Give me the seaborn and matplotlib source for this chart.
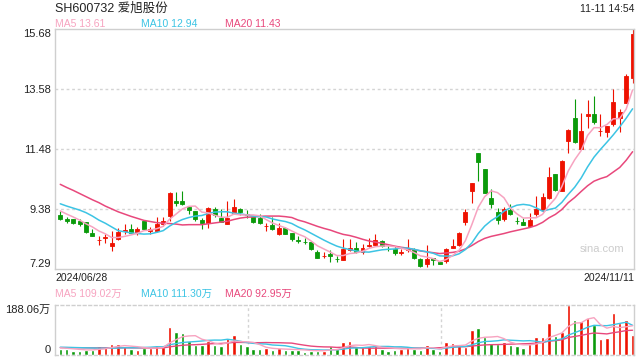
import matplotlib
matplotlib.use("Agg")
import matplotlib.pyplot as plt
import numpy as np
import seaborn as sns

RED = "#ee1100"
GREEN = "#0a9a0a"
MA5_COLOR = "#f7a3c0"
MA10_COLOR = "#3cc4e4"
MA20_COLOR = "#e8487c"
BORDER = "#cfcfcf"
GRID_COLOR = "#d4d4d4"
TEXT_COLOR = "#222222"

# daily OHLC, 2024/06/28 .. 2024/11/11 (yuan)
opens = [9.18, 9.03, 9.04, 8.97, 8.93, 8.56, 8.30, 8.38, 8.10, 8.33,
         8.61, 8.68, 8.56, 8.96, 8.62, 8.62, 8.85, 9.14, 9.65, 9.65,
         9.44, 9.33, 9.00, 8.91, 9.38, 9.08, 8.86, 9.26, 9.38, 9.22,
         9.11, 9.06, 8.79, 8.84, 8.53, 8.74, 8.54, 8.30, 8.25, 8.22,
         7.89, 7.74, 7.80, 7.64, 7.61, 7.96, 8.04, 7.87, 8.10, 8.13,
         8.28, 7.99, 7.98, 7.86, 7.94, 7.94, 7.63, 7.46, 7.69, 7.55,
         7.57, 8.03, 8.12, 8.93, 10.01, 11.33, 10.80, 9.78, 9.30, 9.03,
         9.34, 8.98, 8.95, 8.79, 9.20, 9.37, 9.77, 10.60, 10.00, 11.76,
         12.58, 11.48, 12.63, 12.72, 12.10, 12.09, 12.35, 12.56, 13.11, 13.97]
highs = [9.32, 9.12, 9.05, 9.05, 8.95, 8.68, 8.45, 8.53, 8.62, 8.74,
         8.85, 8.85, 8.77, 8.97, 8.76, 9.12, 9.12, 9.98, 9.98, 10.00,
         9.44, 9.33, 9.08, 9.45, 9.45, 9.38, 9.67, 9.72, 9.43, 9.35,
         9.12, 9.20, 8.91, 9.12, 8.91, 8.76, 8.56, 8.45, 8.37, 8.27,
         7.95, 7.87, 7.96, 7.75, 8.35, 8.35, 8.24, 8.16, 8.39, 8.50,
         8.30, 8.10, 8.08, 8.00, 8.33, 8.04, 7.66, 8.13, 7.69, 7.55,
         8.02, 8.33, 8.59, 9.38, 10.30, 11.33, 10.80, 10.07, 9.43, 9.47,
         9.57, 9.11, 9.08, 9.26, 9.85, 9.93, 10.84, 10.60, 11.09, 12.20,
         13.24, 12.74, 13.21, 13.35, 12.72, 12.29, 13.57, 12.89, 14.09, 15.68]
lows = [9.02, 8.89, 8.88, 8.79, 8.54, 8.45, 8.14, 8.19, 7.92, 8.29,
        8.53, 8.54, 8.49, 8.66, 8.50, 8.59, 8.79, 8.97, 9.49, 9.51,
        9.22, 8.97, 8.70, 8.74, 9.12, 8.95, 8.86, 9.22, 9.17, 9.08,
        8.91, 8.88, 8.61, 8.64, 8.47, 8.50, 8.28, 8.21, 8.18, 7.96,
        7.68, 7.66, 7.52, 7.52, 7.61, 7.92, 7.84, 7.81, 8.05, 8.10,
        8.07, 7.92, 7.77, 7.77, 7.89, 7.63, 7.37, 7.37, 7.44, 7.45,
        7.50, 8.03, 8.10, 8.83, 9.61, 10.36, 9.96, 9.43, 8.88, 8.97,
        9.17, 8.85, 8.82, 8.79, 9.14, 9.30, 9.74, 10.03, 10.00, 11.33,
        11.71, 11.48, 12.23, 12.35, 11.94, 11.92, 12.29, 12.08, 13.11, 13.80]
closes = [9.04, 8.98, 8.90, 8.86, 8.59, 8.45, 8.32, 8.40, 8.21, 8.59,
          8.64, 8.56, 8.70, 8.68, 8.68, 8.88, 8.98, 9.94, 9.58, 9.55,
          9.34, 9.03, 8.91, 9.41, 9.18, 8.95, 9.06, 9.44, 9.28, 9.18,
          8.93, 8.90, 8.81, 8.69, 8.71, 8.53, 8.34, 8.28, 8.23, 7.98,
          7.69, 7.76, 7.73, 7.63, 7.98, 8.04, 7.89, 8.01, 8.13, 8.30,
          8.10, 7.98, 7.84, 7.88, 7.98, 7.66, 7.40, 7.63, 7.60, 7.47,
          7.98, 8.10, 8.54, 9.30, 10.28, 11.02, 9.96, 9.55, 9.00, 9.38,
          9.20, 8.96, 8.83, 9.02, 9.40, 9.80, 10.52, 10.06, 11.05, 12.16,
          11.74, 12.13, 12.72, 12.42, 12.13, 12.29, 13.14, 12.78, 14.04, 15.50]

# moving averages as drawn on the chart
ma5 = [9.32, 9.21, 9.11, 9.00, 8.87, 8.76, 8.62, 8.52, 8.39, 8.39,
       8.43, 8.48, 8.54, 8.63, 8.65, 8.70, 8.78, 9.03, 9.21, 9.39,
       9.48, 9.49, 9.28, 9.25, 9.17, 9.10, 9.10, 9.21, 9.18, 9.18,
       9.18, 9.15, 9.02, 8.90, 8.81, 8.73, 8.62, 8.51, 8.42, 8.27,
       8.10, 7.99, 7.88, 7.76, 7.76, 7.83, 7.85, 7.91, 8.01, 8.07,
       8.09, 8.10, 8.07, 8.02, 7.96, 7.87, 7.75, 7.71, 7.65, 7.55,
       7.62, 7.76, 7.94, 8.28, 8.84, 9.45, 9.82, 10.02, 9.96, 9.78,
       9.42, 9.22, 9.07, 9.08, 9.08, 9.20, 9.51, 9.76, 10.17, 10.72,
       11.11, 11.43, 11.96, 12.23, 12.23, 12.34, 12.54, 12.55, 12.88, 13.55]
ma10 = [9.57, 9.49, 9.42, 9.35, 9.26, 9.14, 9.00, 8.89, 8.76, 8.63,
        8.59, 8.55, 8.53, 8.51, 8.52, 8.57, 8.63, 8.79, 8.92, 9.02,
        9.09, 9.14, 9.16, 9.23, 9.28, 9.29, 9.29, 9.24, 9.22, 9.18,
        9.14, 9.12, 9.11, 9.04, 8.99, 8.95, 8.88, 8.76, 8.66, 8.54,
        8.42, 8.30, 8.19, 8.09, 8.02, 7.97, 7.92, 7.89, 7.88, 7.92,
        7.96, 7.98, 7.99, 8.02, 8.02, 7.98, 7.93, 7.89, 7.84, 7.75,
        7.74, 7.75, 7.82, 7.97, 8.20, 8.53, 8.79, 8.98, 9.12, 9.31,
        9.43, 9.52, 9.55, 9.52, 9.43, 9.31, 9.37, 9.42, 9.62, 9.90,
        10.15, 10.47, 10.86, 11.20, 11.47, 11.72, 11.98, 12.26, 12.56, 12.89]
ma20 = [10.25, 10.14, 10.04, 9.93, 9.82, 9.71, 9.61, 9.49, 9.39, 9.29,
        9.21, 9.13, 9.06, 8.99, 8.95, 8.91, 8.89, 8.88, 8.86, 8.83,
        8.84, 8.84, 8.84, 8.87, 8.90, 8.93, 8.96, 9.02, 9.07, 9.10,
        9.11, 9.13, 9.14, 9.14, 9.14, 9.12, 9.09, 9.00, 8.94, 8.86,
        8.78, 8.71, 8.65, 8.57, 8.50, 8.46, 8.40, 8.33, 8.27, 8.23,
        8.19, 8.14, 8.09, 8.05, 8.02, 7.97, 7.92, 7.89, 7.86, 7.83,
        7.85, 7.87, 7.91, 7.99, 8.11, 8.25, 8.36, 8.43, 8.48, 8.53,
        8.59, 8.64, 8.69, 8.74, 8.81, 8.92, 9.08, 9.20, 9.37, 9.61,
        9.79, 10.00, 10.20, 10.36, 10.45, 10.52, 10.68, 10.84, 11.09, 11.39]

# volume, in 万 shares
volumes = [22.3, 23.5, 16.1, 16.1, 18.5, 18.5, 33.4, 28.4, 40.8, 40.8,
           33.4, 22.3, 18.5, 27.2, 27.2, 35.9, 30.9, 103.9, 85.3, 81.6,
           51.9, 38.3, 38.3, 53.2, 37.1, 33.4, 63.1, 74.2, 40.8, 33.4,
           22.3, 22.3, 27.2, 18.5, 24.7, 18.5, 18.5, 18.5, 12.4, 14.8,
           16.1, 16.1, 33.4, 21.0, 49.5, 53.2, 28.4, 28.4, 33.4, 33.4,
           22.3, 16.1, 18.5, 22.3, 33.4, 22.3, 18.5, 37.1, 22.3, 16.1,
           49.5, 45.7, 40.8, 30.9, 92.7, 100.1, 68.0, 45.7, 40.8, 49.5,
           37.1, 33.4, 27.2, 40.8, 68.0, 68.0, 119.9, 70.5, 85.3, 188.06,
           129.8, 126.1, 138.5, 111.3, 58.1, 64.3, 157.0, 117.5, 129.8, 74.2]
vol_ma5 = [27, 25, 23, 21, 19, 19, 21, 23, 28, 32,
           35, 33, 31, 28, 26, 26, 28, 45, 57, 68,
           71, 72, 59, 53, 44, 40, 45, 52, 50, 49,
           47, 39, 29, 25, 23, 22, 21, 20, 19, 17,
           16, 16, 19, 20, 27, 35, 37, 36, 39, 35,
           29, 27, 25, 23, 23, 23, 23, 27, 27, 23,
           29, 34, 35, 37, 52, 62, 66, 67, 69, 61,
           48, 41, 38, 38, 41, 47, 65, 73, 82, 106,
           119, 120, 134, 139, 113, 100, 106, 102, 105, 109]
vol_ma10 = [29.0, 28.6, 28.0, 27.4, 26.8, 26.2, 25.6, 25.2, 25.4, 25.8,
            27.0, 26.8, 27.1, 28.2, 29.0, 30.8, 30.5, 38.1, 42.5, 46.6,
            48.5, 50.1, 52.0, 54.6, 55.6, 55.4, 58.6, 55.6, 51.2, 46.4,
            43.4, 41.8, 40.7, 37.2, 36.0, 34.5, 30.0, 24.5, 21.6, 19.8,
            19.2, 18.5, 19.2, 19.4, 21.9, 25.4, 26.3, 27.3, 29.4, 31.3,
            31.9, 31.9, 30.4, 30.6, 28.9, 25.8, 24.9, 25.7, 24.6, 22.9,
            25.6, 28.6, 30.8, 31.7, 37.6, 45.4, 50.3, 51.2, 53.0, 56.4,
            55.1, 53.9, 52.5, 53.5, 51.1, 47.8, 53.0, 55.5, 60.0, 73.8,
            83.1, 92.4, 103.5, 110.5, 109.6, 109.2, 112.9, 117.6, 122.0, 110.7]
vol_ma20 = [27.5, 27.4, 27.2, 27.0, 26.8, 26.6, 26.5, 26.4, 26.5, 26.6,
            26.7, 26.6, 26.4, 26.3, 26.3, 26.3, 26.5, 30.4, 33.4, 36.2,
            37.7, 38.4, 39.6, 41.4, 42.3, 43.1, 44.6, 46.9, 46.9, 46.5,
            45.9, 45.9, 46.4, 45.9, 45.8, 44.9, 44.3, 40.1, 36.4, 33.1,
            31.3, 30.2, 29.9, 28.3, 28.9, 29.9, 28.2, 25.9, 25.5, 25.5,
            25.5, 25.2, 24.8, 25.0, 25.4, 25.6, 25.6, 26.5, 27.0, 27.1,
            28.8, 30.2, 30.6, 31.1, 33.3, 35.6, 37.6, 38.5, 38.8, 39.6,
            40.4, 41.2, 41.7, 42.6, 44.3, 46.6, 51.7, 53.4, 56.5, 65.1,
            69.1, 73.1, 78.0, 82.0, 80.3, 78.5, 83.0, 86.6, 91.0, 92.2]

price_ticks = [7.29, 9.38, 11.48, 13.58, 15.68]
price_labels = ["7.29", "9.38", "11.48", "13.58", "15.68"]
vol_ticks = [0, 188.06]
vol_labels = ["0", "188.06万"]
start_label = "2024/06/28"
end_label = "2024/11/11"


def style_axes(ax):
    for s in ax.spines.values():
        s.set_color(BORDER)
        s.set_linewidth(1)
    ax.tick_params(axis="both", length=0, pad=3, labelsize=8, labelcolor=TEXT_COLOR)
    ax.set_xticks([])


sns.set_theme(style="white")
plt.rcParams["font.family"] = ["Liberation Sans", "Noto Sans CJK SC"]

fig = plt.figure(figsize=(6.4, 3.6), dpi=100)
ax = fig.add_axes([55 / 640, 91 / 360, 579 / 640, 240 / 360])
axv = fig.add_axes([55 / 640, 5 / 360, 579 / 640, 50.5 / 360])

x = np.arange(len(closes))
colors = [RED if c >= o else GREEN for o, c in zip(opens, closes)]
bodies = [abs(c - o) for o, c in zip(opens, closes)]
bottoms = [min(o, c) for o, c in zip(opens, closes)]

# price panel
for v in price_ticks[1:-1]:
    ax.axhline(v, color=GRID_COLOR, linestyle=(0, (2, 2)), linewidth=1, zorder=0)
ax.vlines(x, lows, highs, colors=colors, linewidth=0.8, zorder=2)
ax.bar(x, bodies, bottom=bottoms, width=0.62, color=colors, edgecolor=colors,
       linewidth=0.6, zorder=2)
sns.lineplot(x=x, y=ma20, ax=ax, color=MA20_COLOR, linewidth=1.1, zorder=3)
sns.lineplot(x=x, y=ma10, ax=ax, color=MA10_COLOR, linewidth=1.1, zorder=3)
sns.lineplot(x=x, y=ma5, ax=ax, color=MA5_COLOR, linewidth=1.1, zorder=3)
ax.set_xlim(-0.82, 89.22)
ax.set_ylim(price_ticks[0], price_ticks[-1])
ax.set_yticks(price_ticks)
ax.set_yticklabels(price_labels)
style_axes(ax)
ylabels = ax.get_yticklabels()
ylabels[0].set_va("bottom")
ylabels[-1].set_va("top")

# volume panel
xmin, xmax = ax.get_xlim()
for k in (1, 2):
    axv.axvline(xmin + (xmax - xmin) * k / 3, color=GRID_COLOR,
                linestyle=(0, (2, 2)), linewidth=1, zorder=0)
axv.bar(x, volumes, width=0.55, color=colors, zorder=2)
sns.lineplot(x=x, y=vol_ma20, ax=axv, color=MA20_COLOR, linewidth=1.0, zorder=3)
sns.lineplot(x=x, y=vol_ma10, ax=axv, color=MA10_COLOR, linewidth=1.0, zorder=3)
sns.lineplot(x=x, y=vol_ma5, ax=axv, color=MA5_COLOR, linewidth=1.0, zorder=3)
axv.set_xlim(xmin, xmax)
axv.set_ylim(vol_ticks[0], vol_ticks[-1])
axv.set_yticks(vol_ticks)
axv.set_yticklabels(vol_labels)
style_axes(axv)
axv.spines["top"].set_linestyle((0, (2, 2)))
axv.spines["bottom"].set_linestyle((0, (2, 2)))
vlabels = axv.get_yticklabels()
vlabels[0].set_va("bottom")
vlabels[-1].set_va("top")

# header texts
fig.text(55 / 640, 1 - 8 / 360, "SH600732 爱旭股份", fontsize=9, color=TEXT_COLOR, va="center")
fig.text(634 / 640, 1 - 8.5 / 360, "11-11 14:54", fontsize=7.5, color=TEXT_COLOR,
         ha="right", va="center")
for xpos, txt, col in [(55, "MA5 13.61", MA5_COLOR), (140.7, "MA10 12.94", MA10_COLOR),
                       (225.3, "MA20 11.43", MA20_COLOR)]:
    fig.text(xpos / 640, 1 - 24 / 360, txt, fontsize=7.5, color=col, va="center")
for xpos, txt, col in [(55, "MA5 109.02万", MA5_COLOR), (140.7, "MA10 111.30万", MA10_COLOR),
                       (225.3, "MA20 92.95万", MA20_COLOR)]:
    fig.text(xpos / 640, 1 - 294 / 360, txt, fontsize=7.5, color=col, va="center")
fig.text(55 / 640, 1 - 278 / 360, start_label, fontsize=7.5, color=TEXT_COLOR, va="center")
fig.text(634 / 640, 1 - 278 / 360, end_label, fontsize=7.5, color=TEXT_COLOR,
         ha="right", va="center")
fig.text(602 / 640, 1 - 249 / 360, "sina.com", fontsize=8, color="#cccccc",
         ha="center", va="center")

fig.savefig("out.png", dpi=100)
plt.close(fig)
